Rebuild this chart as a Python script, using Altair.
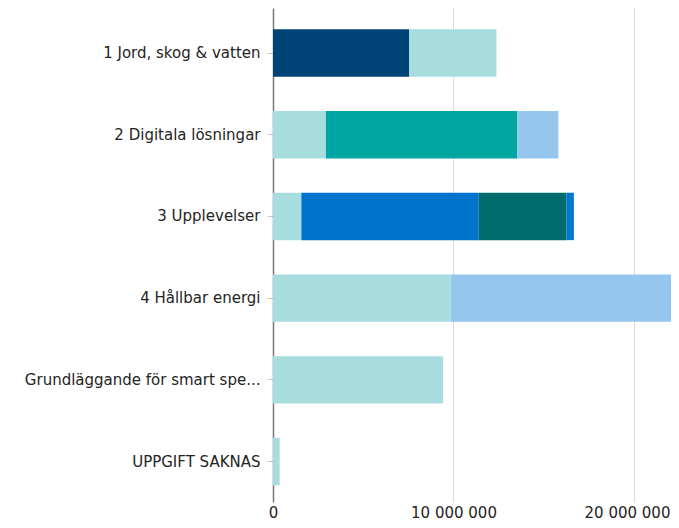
import altair as alt
import pandas as pd

categories = [
    "1 Jord, skog & vatten",
    "2 Digitala lösningar",
    "3 Upplevelser",
    "4 Hållbar energi",
    "Grundläggande för smart spe...",
    "UPPGIFT SAKNAS",
]
series = ["Serie A", "Serie B", "Serie C", "Serie D", "Serie E", "Serie F", "Serie G"]
colors = ["#004377", "#A8DDE0", "#00A5A2", "#94C6EE", "#0074CC", "#006C6D", "#0078D0"]

# values per series, one per category (0 = none)
serie_a = [7550000, 0, 0, 0, 0, 0]
serie_b = [4830000, 2930000, 1570000, 9850000, 9420000, 370000]
serie_c = [0, 10600000, 0, 0, 0, 0]
serie_d = [0, 2280000, 0, 14500000, 0, 0]
serie_e = [0, 0, 9830000, 0, 0, 0]
serie_f = [0, 0, 4850000, 0, 0, 0]
serie_g = [0, 0, 420000, 0, 0, 0]

x_ticks = [0, 10000000, 20000000]
x_max = 22050000

all_vals = [serie_a, serie_b, serie_c, serie_d, serie_e, serie_f, serie_g]
rows = []
for si, (s, vals) in enumerate(zip(series, all_vals)):
    for c, v in zip(categories, vals):
        if v > 0:
            rows.append({"kategori": c, "serie": s, "ord": si, "belopp": v})
df = pd.DataFrame(rows)

FONT = "DejaVu Sans"
TXT = "#252423"

chart = (
    alt.Chart(df)
    .mark_bar(clip=True)
    .encode(
        y=alt.Y(
            "kategori:N",
            sort=categories,
            title=None,
            scale=alt.Scale(paddingInner=0.42, paddingOuter=0.233, align=0.56),
            axis=alt.Axis(
                domainColor="#7a7a7a",
                domainWidth=1.5,
                tickColor="#c8c8c8",
                tickSize=6,
                labelPadding=7,
                labelFont=FONT,
                labelFontSize=15,
                labelColor=TXT,
                labelLimit=300,
            ),
        ),
        x=alt.X(
            "belopp:Q",
            title=None,
            stack="zero",
            scale=alt.Scale(domain=[0, x_max], nice=False, zero=True),
            axis=alt.Axis(
                values=x_ticks,
                domain=False,
                ticks=False,
                grid=True,
                gridColor="#dcdcdc",
                labelFlush=False,
                labelPadding=3,
                labelFont=FONT,
                labelFontSize=15,
                labelColor=TXT,
                labelOffset={"condition": {"test": "datum.value >= 20000000", "value": -7}, "value": 0},
                labelExpr="replace(format(datum.value, ','), /,/g, ' ')",
            ),
        ),
        color=alt.Color(
            "serie:N",
            scale=alt.Scale(domain=series, range=colors),
            legend=None,
        ),
        order=alt.Order("ord:Q"),
    )
    .properties(
        width=398,
        height=494,
        autosize=alt.AutoSizeParams(type="none"),
        padding={"left": 265, "top": 0, "right": 0, "bottom": 18},
    )
    .configure_view(stroke=None)
)

chart.save("out.html", embed_options={"renderer": "svg", "actions": False})
